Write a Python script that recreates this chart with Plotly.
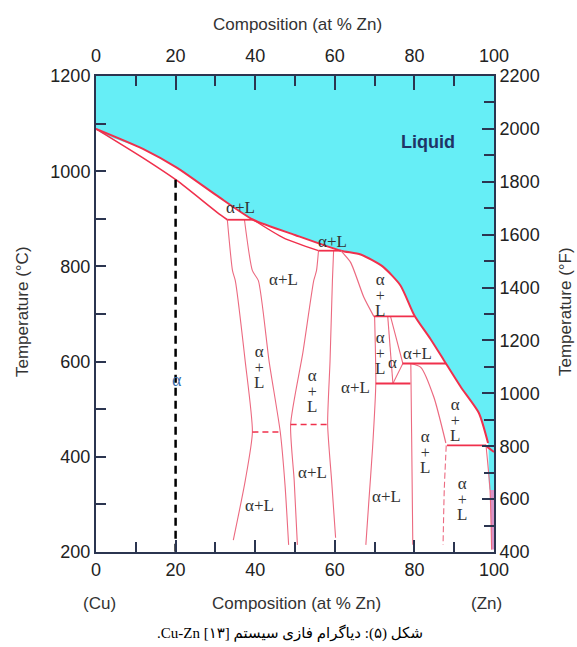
import plotly.graph_objects as go

# ---------------- data (composition at % Zn, temperature °C) -------------
liquidus_x = [0, 11.8, 20.4, 30.5, 39.5, 50, 61.5, 66.5, 72, 76.5, 80.0, 84, 87.4, 91.7, 96.2, 98.5]
liquidus_T = [1089, 1047, 1007, 948, 898, 866, 833, 825, 800, 760, 697, 648, 603, 546, 492, 429]
zn_end_x = [97.8, 100]
zn_end_T = [424, 410]

alpha_sol_x = [0, 11.8, 20.4, 30.5, 33]
alpha_sol_T = [1089, 1028, 980, 913, 898]
beta_sol_x = [39.5, 47.1, 55.9]
beta_sol_T = [898, 860, 833]
gamma_sol_x = [61.5, 64, 67.3, 69.8]
gamma_sol_T = [833, 808, 735, 695]
eps_sol_x = [79.1, 81.6, 84.9, 87.9]
eps_sol_T = [596, 588, 525, 429]

# solvus boundaries
b1_x = [33, 34.3, 35, 37.5, 39.3, 37.5, 34.5]
b1_T = [898, 791, 770, 600, 452, 350, 225]
b2_x = [37.3, 39.3, 40.8, 43.5, 46.3, 47.5, 48.4]
b2_T = [898, 791, 770, 600, 452, 340, 215]
b3_x = [55.9, 55.4, 54.7, 52, 48.9, 49.8, 50.6]
b3_T = [833, 791, 770, 620, 468, 350, 215]
b4_x = [59.7, 59.4, 58.8, 58.2, 59.2, 60.2]
b4_T = [833, 770, 600, 468, 350, 230]
b5_x = [70, 70.3, 69.5, 68.5, 67.8]
b5_T = [695, 554, 420, 300, 215]
delta_l_x = [73.3, 74.6]
delta_l_T = [695, 554]
delta_r_x = [74.0, 77.1, 74.6]
delta_r_T = [695, 596, 554]
b6_x = [79.1, 79.3, 79.6]
b6_T = [596, 450, 215]
b7_x = [88, 87.5, 87.2]
b7_T = [424, 330, 215]
eta_x = [98, 99.0, 99.4]
eta_T = [424, 330, 205]

# invariant (horizontal) reactions
inv_x0 = [33, 55.9, 69.8, 77, 88.2, 70.3]
inv_x1 = [39.5, 61.5, 80, 88, 98, 79]
inv_T = [898, 833, 695, 596, 424, 554]
# ordering (dashed)
ord_x0 = [39.3, 48.9]
ord_x1 = [46.3, 58.2]
ord_T = [452, 468]

# example alloy
alloy_x = 20
alloy_T = [982, 200]

# tick values
x_ticks = [0, 20, 40, 60, 80, 100]
c_ticks = [200, 400, 600, 800, 1000, 1200]
f_ticks = [400, 600, 800, 1000, 1200, 1400, 1600, 1800, 2000, 2200]

# labels: (text, x, T)
labels_inline = [
    ("α+L", 36.4, 923), ("α+L", 59.5, 853), ("α+L", 47, 772), ("α+L", 80.7, 618),
    ("α+L", 65.1, 545), ("α+L", 54.3, 366), ("α+L", 73.1, 316), ("α+L", 41.2, 297),
    ("α", 74.6, 599),
]
labels_stacked = [(71.4, 740), (71.4, 618), (41, 589), (54.3, 539), (90.2, 478), (82.7, 410), (92, 312)]

# ---------------- styling ----------------
AX = "#2b3550"
CYAN = "#66EEF6"
RED = "#f0304c"
PINK = "#ec6a80"
TXT = "#333333"
SANS = "Liberation Sans, Arial, sans-serif"
SERIF = "Liberation Serif, Times New Roman, serif"

fig = go.Figure()

# liquid region fill
fill_x = [0] + liquidus_x + [eta_x[1], 100, 100]
fill_T = [1200] + liquidus_T + [eta_T[1], eta_T[1], 1200]
fig.add_trace(go.Scatter(x=fill_x, y=fill_T, fill="toself", fillcolor=CYAN,
                         line=dict(width=0, shape="spline", smoothing=0.6), mode="lines", hoverinfo="skip"))
fig.add_trace(go.Scatter(x=[eta_x[1], eta_x[2], 100, 100], y=[eta_T[1], eta_T[2], eta_T[2], eta_T[1]],
                         fill="toself", fillcolor="#d894c8", line=dict(width=0), mode="lines"))

def line(x, y, color=PINK, width=1.2, dash=None):
    fig.add_trace(go.Scatter(x=x, y=y, mode="lines",
                             line=dict(color=color, width=width, dash=dash, shape="spline", smoothing=0.6)))

line(liquidus_x, liquidus_T, RED, 2)
line(zn_end_x, zn_end_T, RED, 2)
line(alpha_sol_x, alpha_sol_T, RED, 1.6)
line(beta_sol_x, beta_sol_T, RED, 1.4)
line(gamma_sol_x, gamma_sol_T, PINK, 1.2)
line(eps_sol_x, eps_sol_T, PINK, 1.2)
for bx, bt in [(b1_x, b1_T), (b2_x, b2_T), (b3_x, b3_T), (b4_x, b4_T), (b5_x, b5_T),
               (delta_l_x, delta_l_T), (b6_x, b6_T)]:
    line(bx, bt, PINK, 1.1)
fig.add_trace(go.Scatter(x=delta_r_x, y=delta_r_T, mode="lines", line=dict(color=PINK, width=1.1)))
line(b7_x, b7_T, PINK, 1.1, "6px,3px")
line(eta_x, eta_T, PINK, 1.1)

for x0, x1, t in zip(inv_x0, inv_x1, inv_T):
    fig.add_trace(go.Scatter(x=[x0, x1], y=[t, t], mode="lines", line=dict(color=RED, width=1.8)))
for x0, x1, t in zip(ord_x0, ord_x1, ord_T):
    fig.add_trace(go.Scatter(x=[x0, x1], y=[t, t], mode="lines", line=dict(color=RED, width=1.5, dash="6px,4px")))

fig.add_trace(go.Scatter(x=[alloy_x, alloy_x], y=alloy_T, mode="lines",
                         line=dict(color="black", width=2.5, dash="8px,5px")))

# invisible trace for secondary axes
fig.add_trace(go.Scatter(x=[0, 100], y=[f_ticks[0], f_ticks[-1]], xaxis="x2", yaxis="y2",
                         mode="lines", line=dict(width=0), opacity=0, hoverinfo="skip"))

# ---------------- annotations ----------------
ann = []
for t, x, y in labels_inline:
    ann.append(dict(x=x, y=y, text=t, showarrow=False, font=dict(family=SERIF, size=17, color=TXT)))
stack_txt = ("<span style='font-size:17px'>α</span><br><span style='font-size:16px'>+</span>"
             "<br><span style='font-size:17px'>L</span>")
for x, y in labels_stacked:
    ann.append(dict(x=x, y=y, text=stack_txt, showarrow=False,
                    font=dict(family=SERIF, size=12, color=TXT)))
ann.append(dict(x=83.4, y=1061, text="<b>Liquid</b>", showarrow=False,
                font=dict(family=SANS, size=18, color="#1f3566")))
ann.append(dict(x=20.4, y=562, text="α", showarrow=False, font=dict(family=SERIF, size=18, color="#3a6fb0")))

def pap(px, py, text, size=17, angle=0, family=SANS, color=TXT):
    ann.append(dict(xref="paper", yref="paper", x=(px - 96) / 398, y=(552 - py) / 476, text=text,
                    showarrow=False, textangle=angle, font=dict(family=family, size=size, color=color),
                    xanchor="center", yanchor="middle"))

pap(297, 25, "Composition (at % Zn)")
pap(99, 603, "(Cu)")
pap(296, 603, "Composition (at % Zn)")
pap(486, 603, "(Zn)")
pap(22, 312, "Temperature (°C)", angle=-90)
pap(565, 312, "Temperature (°F)", angle=-90)
caption = "\u202bشکل (۵): دیاگرام فازی سیستم Cu-Zn [۱۳].\u202c"
pap(290, 633, caption, size=15, family="Liberation Serif, DejaVu Sans, serif", color="black")

tickfont = dict(family=SANS, size=18, color="#222222")
common = dict(showline=True, linecolor=AX, linewidth=2, showgrid=False, zeroline=False,
              ticks="inside", tickcolor=AX, tickwidth=1.5, tickfont=tickfont)

fig.update_layout(
    width=577, height=647, margin=dict(l=96, r=83, t=76, b=95),
    plot_bgcolor="white", paper_bgcolor="white", showlegend=False,
    annotations=ann,
    xaxis=dict(range=[0, 100], tickvals=x_ticks, ticklen=12,
               minor=dict(dtick=10, ticks="inside", ticklen=10, tickcolor=AX, tickwidth=1.5), **common),
    xaxis2=dict(range=[0, 100], tickvals=x_ticks, ticklen=14, overlaying="x", side="top",
                ticklabelstandoff=5,
                minor=dict(dtick=10, ticks="inside", ticklen=10, tickcolor=AX, tickwidth=1.5), **common),
    yaxis=dict(range=[200, 1200], tickvals=c_ticks, ticklen=10,
               minor=dict(dtick=100, ticks="inside", ticklen=10, tickcolor=AX, tickwidth=1.5), **common),
    yaxis2=dict(range=[400, 2200], tickvals=f_ticks, ticklen=12, overlaying="y", side="right",
                minor=dict(dtick=100, ticks="inside", ticklen=10, tickcolor=AX, tickwidth=1.5), **common),
)

fig.write_html("out.html", config={"displayModeBar": False},
               post_script="document.body.style.margin='0';")
